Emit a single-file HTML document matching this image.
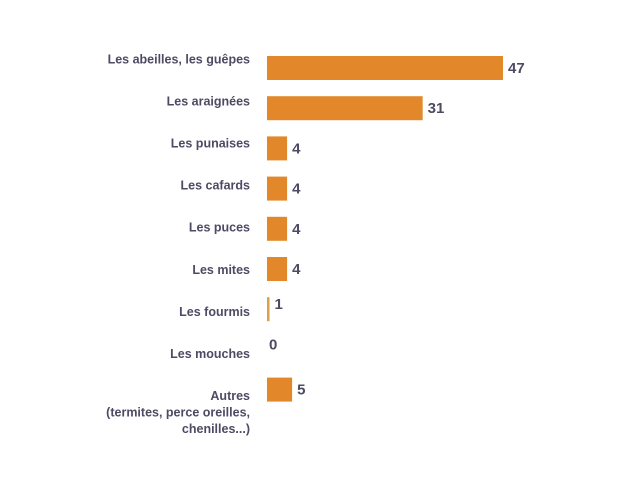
<!DOCTYPE html>
<html><head><meta charset="utf-8"><style>
html,body{margin:0;padding:0;background:#fff;}
svg{display:block;font-family:"Liberation Sans",Arial,sans-serif;font-weight:bold;}
</style></head><body>
<svg id="chart" width="640" height="480"></svg>
<script>
const categories = [["Les abeilles, les guêpes"],["Les araignées"],["Les punaises"],["Les cafards"],["Les puces"],["Les mites"],["Les fourmis"],["Les mouches"],["Autres","(termites, perce oreilles,","chenilles...)"]];
const values = [47,31,4,4,4,4,1,0,5];
const valueLabels = ["47","31","4","4","4","4","1","0","5"];
const NS="http://www.w3.org/2000/svg";
const svg=document.getElementById('chart');
const x0=267, scale=236/47;
function xPos(v){return x0+v*scale;}
function yRow(i){return 68+40.2*i;}
function yLabel(i){return 60+42.1*i;}
const barH=24;
function mk(t,a){const e=document.createElementNS(NS,t);for(const k in a)e.setAttribute(k,a[k]);svg.appendChild(e);return e;}
values.forEach((v,i)=>{
  const w=Math.max(0,xPos(v)-x0);
  if(v>0){
    const r=mk('rect',{x:x0,y:yRow(i)-barH/2,width:v===1?2.5:w,height:barH,fill:v===1?'#d9a24a':'#e2882a'});
    
    
  }
  const t=mk('text',{x:x0+(v===1?2.5:w)+(v===0?2:5),y:yRow(i)+(v<=1?-4:1),'font-size':15,fill:'#4d4b63','dominant-baseline':'middle'});
  t.textContent=valueLabels[i];
  
  
  const lines=categories[i];
  const base=yLabel(i);
  lines.forEach((ln,j)=>{
    const l=mk('text',{x:250,y:base+j*16.5,'font-size':12.5,fill:'#4d4b63','text-anchor':'end','dominant-baseline':'middle'});
    l.textContent=ln;
    
    
  });
});
</script>
</body></html>
